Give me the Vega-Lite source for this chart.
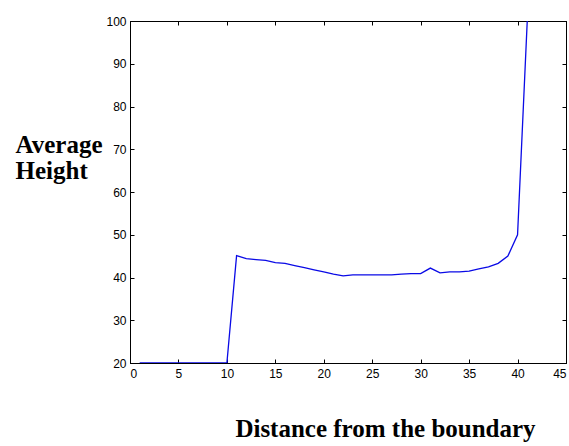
{
  "$schema": "https://vega.github.io/schema/vega-lite/v6.json",
  "autosize": "none",
  "width": 436,
  "height": 342,
  "padding": {"left": 130, "top": 21, "right": 3, "bottom": 83},
  "background": "white",
  "config": {
    "view": {"stroke": "black", "strokeWidth": 1},
    "axis": {
      "domainColor": "black",
      "tickColor": "black",
      "labelColor": "black",
      "labelFont": "Liberation Sans",
      "labelFontSize": 12,
      "grid": false,
      "tickSize": -4,
      "titleFont": "Liberation Serif",
      "titleFontWeight": "bold",
      "titleFontSize": 25,
      "titleColor": "black"
    }
  },
  "data": {"values": [
    {"d": 1, "h": 20}, {"d": 2, "h": 20}, {"d": 3, "h": 20}, {"d": 4, "h": 20}, {"d": 5, "h": 20},
    {"d": 6, "h": 20}, {"d": 7, "h": 20}, {"d": 8, "h": 20}, {"d": 9, "h": 20}, {"d": 10, "h": 20},
    {"d": 11, "h": 45.1}, {"d": 12, "h": 44.4}, {"d": 13, "h": 44.2}, {"d": 14, "h": 44.0},
    {"d": 15, "h": 43.5}, {"d": 16, "h": 43.3}, {"d": 17, "h": 42.8}, {"d": 18, "h": 42.3},
    {"d": 19, "h": 41.8}, {"d": 20, "h": 41.3}, {"d": 21, "h": 40.8}, {"d": 22, "h": 40.4},
    {"d": 23, "h": 40.6}, {"d": 24, "h": 40.6}, {"d": 25, "h": 40.6}, {"d": 26, "h": 40.6},
    {"d": 27, "h": 40.6}, {"d": 28, "h": 40.8}, {"d": 29, "h": 40.9}, {"d": 30, "h": 40.9},
    {"d": 31, "h": 42.2}, {"d": 32, "h": 41.1}, {"d": 33, "h": 41.3}, {"d": 34, "h": 41.3},
    {"d": 35, "h": 41.5}, {"d": 36, "h": 42.0}, {"d": 37, "h": 42.5}, {"d": 38, "h": 43.3},
    {"d": 39, "h": 45.0}, {"d": 40, "h": 50.0}, {"d": 41, "h": 100}
  ]},
  "layer": [
    {
      "mark": {"type": "line", "color": "#0a0ae6", "strokeWidth": 1.3, "clip": true},
      "encoding": {
        "x": {"field": "d", "type": "quantitative",
          "scale": {"domain": [0, 45], "nice": false},
          "axis": {"orient": "bottom", "values": [0,5,10,15,20,25,30,35,40,45], "labelPadding": 9,
            "title": "Distance from the boundary", "titleX": 255, "titleY": 73, "titleBaseline": "alphabetic", "titleAnchor": null, "titleAlign": "center"}},
        "y": {"field": "h", "type": "quantitative",
          "scale": {"domain": [20, 100], "nice": false},
          "axis": {"orient": "left", "values": [20,30,40,50,60,70,80,90,100], "labelPadding": 8,
            "title": ["Average", "Height"], "titleAngle": 0, "titleX": -115, "titleY": 131,
            "titleAlign": "left", "titleBaseline": "alphabetic", "titleLineHeight": 26, "titleAnchor": null}}
      }
    },
    {
      "mark": {"type": "line", "opacity": 0},
      "encoding": {
        "x": {"field": "d", "type": "quantitative",
          "scale": {"domain": [0, 45], "nice": false},
          "axis": {"orient": "top", "values": [0,5,10,15,20,25,30,35,40,45], "labels": false, "title": null}},
        "y": {"field": "h", "type": "quantitative",
          "scale": {"domain": [20, 100], "nice": false},
          "axis": {"orient": "right", "values": [20,30,40,50,60,70,80,90,100], "labels": false, "title": null}}
      }
    }
  ],
  "resolve": {"axis": {"x": "independent", "y": "independent"}}
}
